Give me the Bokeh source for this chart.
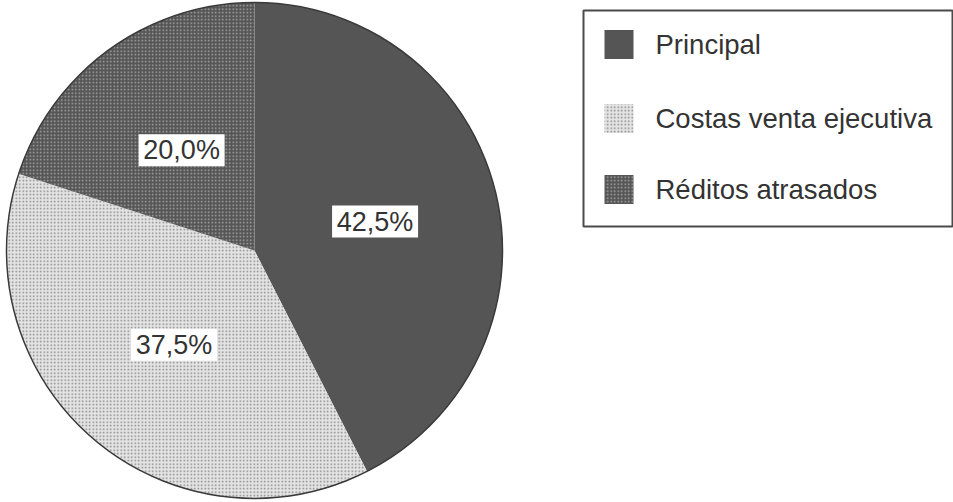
import numpy as np
from bokeh.plotting import figure
from bokeh.models import Range1d, ColumnDataSource
from bokeh.core.properties import value
from bokeh.embed import file_html
from bokeh.resources import INLINE

# ---- data ----
categories = ["Principal", "Costas venta ejecutiva", "Réditos atrasados"]
shares = [42.5, 37.5, 20.0]
labels = ["42,5%", "37,5%", "20,0%"]

# ---- styles ----
fills = ["#555555", "#e4e4e4", "#555555"]
hatch_colors = ["#555555", "#858585", "#a8a8a8"]
hatches = [" ", "dot", "dot"]
FONT = "Liberation Sans"
TXT = "#333333"

W, H = 953, 502
CX, CY, R = 254, H - 250, 248

p = figure(width=W, height=H, output_backend="svg", toolbar_location=None,
           x_range=Range1d(0, W), y_range=Range1d(0, H),
           x_axis_location=None, y_axis_location=None, min_border=0)
p.grid.visible = False
p.outline_line_color = None
p.background_fill_color = "white"
p.border_fill_color = "white"

vals = np.array(shares, dtype=float)
frac = vals / vals.sum()
cum = np.concatenate([[0.0], np.cumsum(frac)])
start = np.pi / 2 - cum[:-1] * 2 * np.pi
end = np.pi / 2 - cum[1:] * 2 * np.pi
mid = (start + end) / 2

for i in range(len(categories)):
    p.wedge(x=CX, y=CY, radius=R, start_angle=start[i], end_angle=end[i],
            direction="clock", fill_color=fills[i], line_color=None,
            hatch_pattern=hatches[i], hatch_color=hatch_colors[i],
            hatch_scale=3.5, hatch_weight=1.5)

p.circle(x=CX, y=CY, radius=R, fill_color=None, line_color="#3a3a3a", line_width=1.5)

# slice labels with white boxes
lx = CX + 0.5 * R * np.cos(mid)
ly = CY + 0.5 * R * np.sin(mid)
src = ColumnDataSource(dict(x=lx, y=ly, t=labels))
p.rect(x="x", y="y", width=86, height=32, width_units="screen", height_units="screen",
       source=src, fill_color="white", line_color=None)
p.text(x="x", y="y", text="t", source=src, text_align="center", text_baseline="middle",
       text_font=value(FONT), text_font_size="27px", text_color=TXT)

# legend (drawn manually)
BX0, BX1, BY0, BY1 = 583, 952, 10, 226
p.rect(x=(BX0 + BX1) / 2, y=H - (BY0 + BY1) / 2, width=BX1 - BX0, height=BY1 - BY0,
       fill_color="white", line_color="#4a4a4a", line_width=2)
row_y = [H - 44, H - 118, H - 189]
for i in range(len(categories)):
    p.rect(x=618.5, y=row_y[i], width=29, height=29, fill_color=fills[i],
           line_color=None, hatch_pattern=hatches[i], hatch_color=hatch_colors[i],
           hatch_scale=3.5, hatch_weight=1.5)
lsrc = ColumnDataSource(dict(x=[655] * len(categories), y=row_y, t=categories))
p.text(x="x", y="y", text="t", source=lsrc, text_align="left", text_baseline="middle",
       text_font=value(FONT), text_font_size="27.5px", text_color=TXT)

open("out.html", "w").write(file_html(p, INLINE))
